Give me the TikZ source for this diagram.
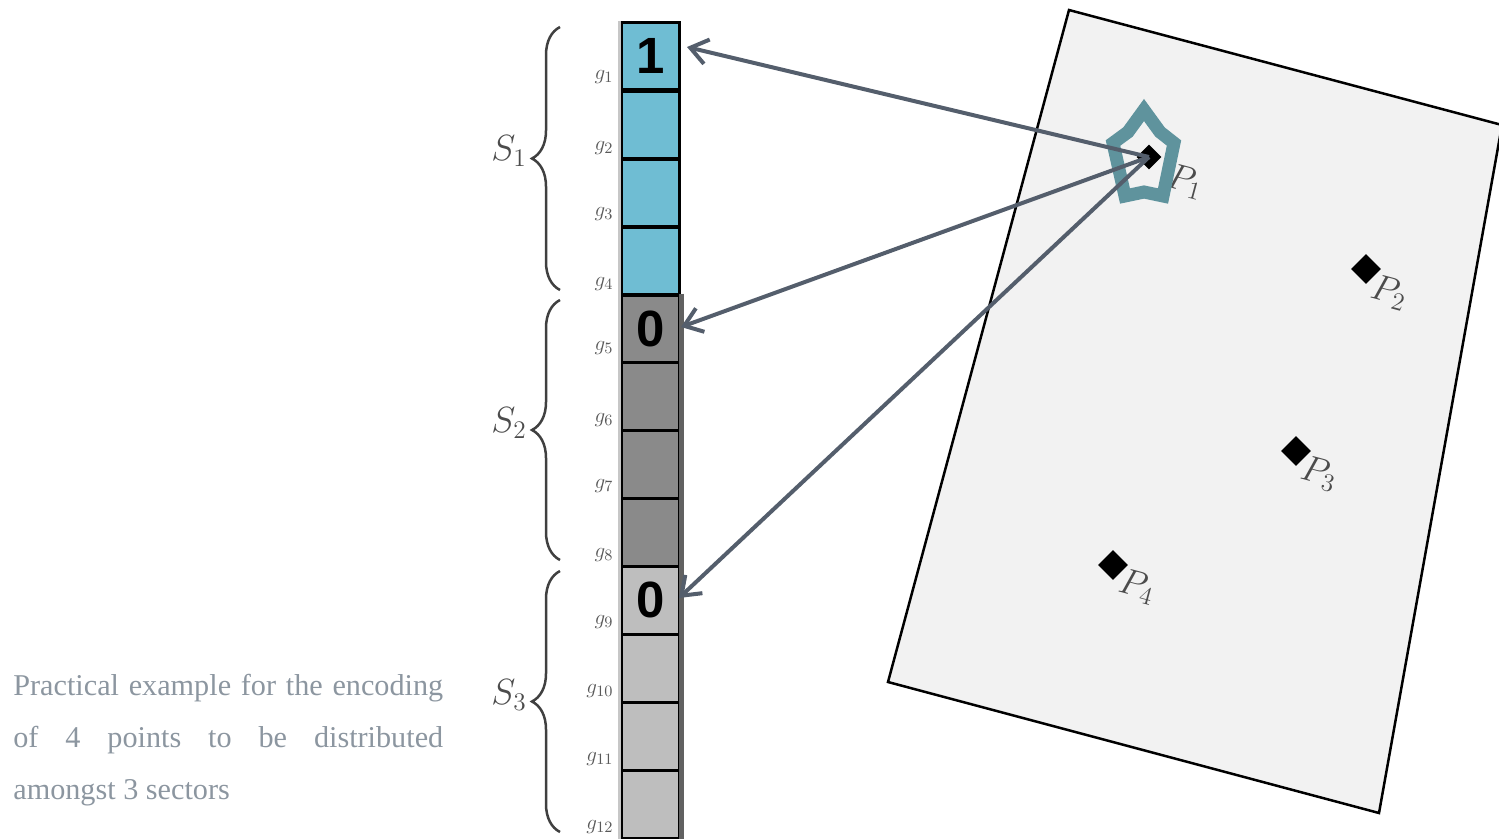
\documentclass[tikz,border=0pt]{standalone}
\usepackage{fontspec}
\setmainfont{Liberation Serif}
\newfontfamily\digitfont{Liberation Sans}
\usepackage{xcolor}
\usepackage{amsmath}
\usetikzlibrary{shapes.geometric,arrows.meta,decorations.pathreplacing}
\definecolor{cellblue}{HTML}{6FBDD3}
\definecolor{celldark}{HTML}{8A8A8A}
\definecolor{celllight}{HTML}{BEBEBE}
\definecolor{arrowgray}{HTML}{545E6C}
\definecolor{stargreen}{HTML}{5F939D}
\definecolor{captiongray}{HTML}{8C96A0}
\tikzset{
  cell/.style={rectangle, draw=black, line width=0.06cm, minimum width=1.18cm, minimum height=1.36cm, inner sep=0pt, font=\digitfont\bfseries\fontsize{29}{29}\selectfont},
  glabel/.style={text=black!65, inner sep=0pt, font=\fontsize{13}{13}\selectfont},
  slabel/.style={text=black!70, inner sep=0pt, font=\fontsize{22}{22}\selectfont},
  plabel/.style={text=black!70, inner sep=0pt, rotate=-15, font=\fontsize{20}{20}\selectfont},
  point/.style={diamond, fill=black, inner sep=0pt, minimum size=0.6cm},
  bracket/.style={draw=black!75, line width=0.05cm, decorate, decoration={brace, amplitude=0.56cm}},
  link/.style={draw=arrowgray, line width=0.08cm, -{Straight Barb[length=0.34cm, width=0.5cm, line width=0.08cm]}},
}
\begin{document}
\begin{tikzpicture}[x=0.02cm, y=-0.02cm]
  \useasboundingbox (0, 0) rectangle (1499, 839);
  \clip (0, 0) rectangle (1499, 839);
  % Page
  \draw[fill=black!5, line width=0.05cm] (1069, 10) -- (1502, 125) -- (1379, 813) -- (888, 682) -- cycle;
  % Cells
  \node (c1) [cell, fill=cellblue] at (650.5, 56) {1};
  \node (c2) [cell, fill=cellblue] at (650.5, 125) {};
  \node (c3) [cell, fill=cellblue] at (650.5, 193) {};
  \node (c4) [cell, fill=cellblue] at (650.5, 261) {};
  \node (c5) [cell, fill=celldark] at (650.5, 329) {0};
  \node (c6) [cell, fill=celldark] at (650.5, 396.5) {};
  \node (c7) [cell, fill=celldark] at (650.5, 464) {};
  \node (c8) [cell, fill=celldark] at (650.5, 532) {};
  \node (c9) [cell, fill=celllight] at (650.5, 600) {0};
  \node (c10) [cell, fill=celllight] at (650.5, 668) {};
  \node (c11) [cell, fill=celllight] at (650.5, 736) {};
  \node (c12) [cell, fill=celllight] at (650.5, 804) {};
  % Cell edges
  \draw[black!62, line width=0.1cm, xshift=-0.03cm] (c5.north east) -- (c12.south east);
  \draw[black!22, line width=0.05cm, xshift=-0.05cm] (c1.north west) -- (c12.south west);
  % Cell labels
  \node (g1) [glabel] at (604, 77) {$g_{1}$};
  \node (g2) [glabel] at (604, 148) {$g_{2}$};
  \node (g3) [glabel] at (604, 214) {$g_{3}$};
  \node (g4) [glabel] at (604, 284) {$g_{4}$};
  \node (g5) [glabel] at (604, 348) {$g_{5}$};
  \node (g6) [glabel] at (604, 420) {$g_{6}$};
  \node (g7) [glabel] at (604, 486) {$g_{7}$};
  \node (g8) [glabel] at (604, 555) {$g_{8}$};
  \node (g9) [glabel] at (604, 622) {$g_{9}$};
  \node (g10) [glabel] at (600, 691) {$g_{10}$};
  \node (g11) [glabel] at (600, 759) {$g_{11}$};
  \node (g12) [glabel] at (600, 827) {$g_{12}$};
  % Sectors
  \coordinate (s1top) at (560, 27);
  \coordinate (s1bottom) at (560, 290);
  \coordinate (s2top) at (560, 300);
  \coordinate (s2bottom) at (560, 560);
  \coordinate (s3top) at (560, 571);
  \coordinate (s3bottom) at (560, 832);
  \draw[bracket] (s1bottom) -- (s1top);
  \draw[bracket] (s2bottom) -- (s2top);
  \draw[bracket] (s3bottom) -- (s3top);
  \node (s1) [slabel] at (509, 151) {$S_{1}$};
  \node (s2) [slabel] at (509, 423) {$S_{2}$};
  \node (s3) [slabel] at (509, 695) {$S_{3}$};
  % Points
  \node (p1) [point, minimum size=0.5cm] at (1149, 157) {};
  \node (p2) [point] at (1366, 269) {};
  \node (p3) [point] at (1296, 451) {};
  \node (p4) [point] at (1113, 565) {};
  \node (lp1) [plabel] at (1185, 182) {$P_{1}$};
  \node (lp2) [plabel] at (1389, 293) {$P_{2}$};
  \node (lp3) [plabel] at (1319, 474) {$P_{3}$};
  \node (lp4) [plabel] at (1137, 587) {$P_{4}$};
  % Marker
  \draw[stargreen, line width=0.26cm, line join=miter] (1144, 110) -- (1160, 132) -- (1174, 143) -- (1163, 196) -- (1144, 192) -- (1125, 196) -- (1113, 143) -- (1128, 132) -- cycle;
  % Arrow
  \coordinate (t1) at (687, 47);
  \coordinate (t5) at (681, 327);
  \coordinate (t9) at (679, 598);
  \draw[link] (p1.center) to (t1);
  \draw[link] (p1.center) to (t5);
  \draw[link] (p1.center) to (t9);
  % Caption
  \node (caption) [anchor=north west, inner sep=0pt, text width=8.6cm, align=justify, text=captiongray, font=\fontsize{17.2}{29.6}\selectfont] at (13, 674) {Practical example for the encoding\linebreak of 4 points to be distributed\linebreak amongst 3 sectors};
\end{tikzpicture}
\end{document}
